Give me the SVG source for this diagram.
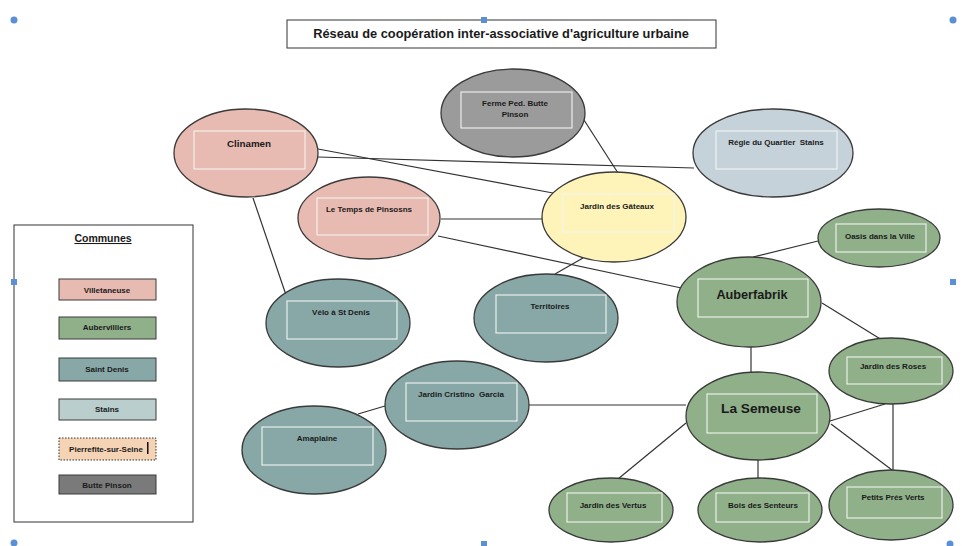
<svg xmlns="http://www.w3.org/2000/svg" width="968" height="546" viewBox="0 0 968 546">
<style>
.n{stroke:#3a3a3a;stroke-width:1.3}
.in{fill:none;stroke:#f2f5f0;stroke-width:1.1}
.t{font-family:"Liberation Sans",Arial,sans-serif;font-weight:bold;font-size:8px;fill:#1a1a1a;text-anchor:middle}
.c line{stroke:#333;stroke-width:1.2}
.pink{fill:#e8bbb2}.green{fill:#8fb089}.teal{fill:#88a8a8}.gray{fill:#9b9b9b}.stains{fill:#c6d2da}.yellow{fill:#fef3b8}
.lg{stroke:#3a3a3a;stroke-width:1}
.h{fill:#5b8fd6}
</style>
<rect width="968" height="546" fill="#ffffff"/>

<g id="title">
<rect x="287" y="20" width="429" height="28" fill="#fff" stroke="#333" stroke-width="1"/>
<text x="501" y="38" class="t" style="font-size:12.8px">Réseau de coopération inter-associative d'agriculture urbaine</text>
</g>

<g id="connectors" class="c">
<line x1="318" y1="157" x2="694" y2="168"/>
<line x1="318" y1="149" x2="553" y2="193"/>
<line x1="253" y1="198" x2="286" y2="295"/>
<line x1="441" y1="219" x2="542" y2="219"/>
<line x1="438" y1="236" x2="686" y2="289"/>
<line x1="584" y1="120" x2="618" y2="173"/>
<line x1="583" y1="258" x2="555" y2="274"/>
<line x1="753" y1="257" x2="818" y2="241"/>
<line x1="822" y1="303" x2="882" y2="340"/>
<line x1="751" y1="347" x2="751" y2="372"/>
<line x1="529" y1="405" x2="686" y2="405"/>
<line x1="385" y1="406" x2="358" y2="414"/>
<line x1="686" y1="423" x2="618" y2="479"/>
<line x1="758" y1="460" x2="758" y2="478"/>
<line x1="830" y1="421" x2="885" y2="404"/>
<line x1="831" y1="424" x2="892" y2="470"/>
<line x1="893" y1="404" x2="893" y2="470"/>
</g>

<g id="clinamen">
<ellipse cx="246" cy="153" rx="72" ry="44" class="n pink"/>
<rect x="194" y="131" width="111" height="38" class="in"/>
<text x="249" y="147" class="t" style="font-size:9.8px">Clinamen</text>
</g>
<g id="ferme">
<ellipse cx="513" cy="113" rx="72" ry="44" class="n gray"/>
<rect x="461" y="92" width="111" height="36" class="in"/>
<text x="515" y="106" class="t">Ferme Ped. Butte</text>
<text x="515" y="117" class="t">Pinson</text>
</g>
<g id="regie">
<ellipse cx="773" cy="153" rx="80" ry="44" class="n stains"/>
<rect x="716" y="131" width="121" height="38" class="in"/>
<text x="776" y="145" class="t" xml:space="preserve">Régie du Quartier  Stains</text>
</g>
<g id="temps">
<ellipse cx="369" cy="218" rx="71" ry="41" class="n pink"/>
<rect x="317" y="198" width="111" height="37" class="in"/>
<text x="369" y="212" class="t">Le Temps de Pinsosns</text>
</g>
<g id="gateaux">
<ellipse cx="614" cy="217" rx="72" ry="45" class="n yellow"/>
<rect x="563" y="194" width="111" height="38" class="in"/>
<text x="617" y="209" class="t">Jardin des Gâteaux</text>
</g>
<g id="oasis">
<ellipse cx="879" cy="238" rx="61" ry="29" class="n green"/>
<rect x="836" y="224" width="90" height="28" class="in"/>
<text x="880" y="239" class="t">Oasis dans la Ville</text>
</g>
<g id="velo">
<ellipse cx="338" cy="323" rx="72" ry="44" class="n teal"/>
<rect x="287" y="301" width="110" height="38" class="in"/>
<text x="341" y="315" class="t">Vélo à St Denis</text>
</g>
<g id="territoires">
<ellipse cx="546" cy="318" rx="72" ry="44" class="n teal"/>
<rect x="496" y="295" width="110" height="38" class="in"/>
<text x="550" y="309" class="t">Territoires</text>
</g>
<g id="auberfabrik">
<ellipse cx="749" cy="302" rx="72" ry="45" class="n green"/>
<rect x="698" y="279" width="110" height="38" class="in"/>
<text x="752" y="299" class="t" style="font-size:12.7px">Auberfabrik</text>
</g>
<g id="roses">
<ellipse cx="891" cy="371" rx="62" ry="33" class="n green"/>
<rect x="847" y="357" width="95" height="27" class="in"/>
<text x="893" y="369" class="t">Jardin des Roses</text>
</g>
<g id="cristino">
<ellipse cx="457" cy="405" rx="72" ry="44" class="n teal"/>
<rect x="406" y="383" width="111" height="38" class="in"/>
<text x="461" y="397" class="t" xml:space="preserve">Jardin Cristino  Garcia</text>
</g>
<g id="amaplaine">
<ellipse cx="314" cy="450" rx="72" ry="44" class="n teal"/>
<rect x="262" y="427" width="111" height="38" class="in"/>
<text x="317" y="441" class="t">Amaplaine</text>
</g>
<g id="semeuse">
<ellipse cx="758" cy="416" rx="72" ry="44" class="n green"/>
<rect x="707" y="394" width="110" height="39" class="in"/>
<text x="761" y="413" class="t" style="font-size:13.7px">La Semeuse</text>
</g>
<g id="vertus">
<ellipse cx="611" cy="510" rx="62" ry="32" class="n green"/>
<rect x="567" y="493" width="95" height="29" class="in"/>
<text x="613" y="508" class="t">Jardin des Vertus</text>
</g>
<g id="bois">
<ellipse cx="760" cy="510" rx="62" ry="32" class="n green"/>
<rect x="716" y="493" width="93" height="29" class="in"/>
<text x="763" y="508" class="t">Bois des Senteurs</text>
</g>
<g id="petits">
<ellipse cx="891" cy="505" rx="62" ry="35" class="n green"/>
<rect x="847" y="487" width="95" height="31" class="in"/>
<text x="893" y="500" class="t">Petits Prés Verts</text>
</g>

<g id="legend">
<rect x="14" y="225" width="179" height="297" fill="#fff" stroke="#333" stroke-width="1"/>
<text x="103" y="242" class="t" style="font-size:10.5px;text-decoration:underline">Communes</text>
<rect x="59" y="279" width="97" height="21" class="lg" fill="#e8bbb2"/>
<text x="107" y="293" class="t">Villetaneuse</text>
<rect x="59" y="317" width="97" height="22" class="lg" fill="#8fb089"/>
<text x="107" y="330" class="t">Aubervilliers</text>
<rect x="59" y="358" width="97" height="23" class="lg" fill="#88a8a8"/>
<text x="107" y="372" class="t">Saint Denis</text>
<rect x="59" y="399" width="97" height="21" class="lg" fill="#b9cecd"/>
<text x="107" y="412" class="t">Stains</text>
<rect x="59" y="438" width="97" height="22" fill="#f5d3b5" stroke="#333" stroke-width="1" stroke-dasharray="1.5 1.5"/>
<text x="106" y="452" class="t">Pierrefite-sur-Seine</text>
<rect x="147" y="442" width="1.5" height="12" fill="#111"/>
<rect x="59" y="475" width="97" height="19" class="lg" fill="#7a7a7a"/>
<text x="107" y="488" class="t">Butte Pinson</text>
</g>

<g id="handles">
<circle cx="14" cy="20" r="3.5" class="h"/>
<circle cx="953" cy="20" r="3.5" class="h"/>
<rect x="481" y="17" width="6" height="6" class="h"/>
<rect x="11" y="279" width="6" height="6" class="h"/>
<rect x="950" y="279" width="6" height="6" class="h"/>
<circle cx="14" cy="543" r="3.5" class="h"/>
<rect x="481" y="541" width="6" height="6" class="h"/>
<circle cx="950" cy="544" r="3.5" class="h"/>
</g>
</svg>
